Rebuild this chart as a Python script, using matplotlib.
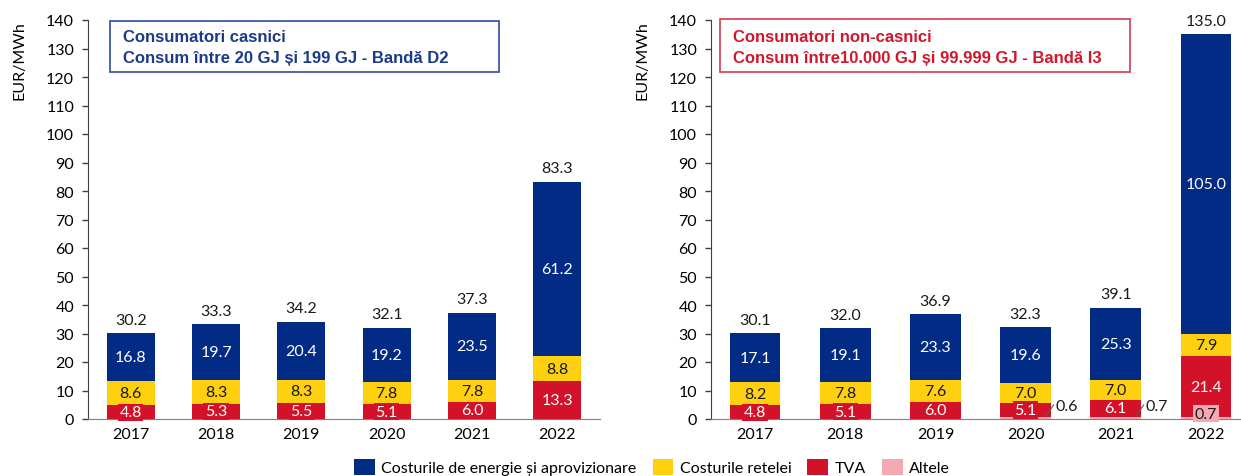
import matplotlib
matplotlib.use("Agg")
import matplotlib.pyplot as plt
from matplotlib.patches import Patch, Rectangle

plt.rcParams['font.family'] = ['Lato', 'DejaVu Sans']

years = ["2017", "2018", "2019", "2020", "2021", "2022"]

# Household consumers (band D2)
cas_tva = [4.8, 5.3, 5.5, 5.1, 6.0, 13.3]
cas_retea = [8.6, 8.3, 8.3, 7.8, 7.8, 8.8]
cas_energie = [16.8, 19.7, 20.4, 19.2, 23.5, 61.2]
cas_total = [30.2, 33.3, 34.2, 32.1, 37.3, 83.3]

# Non-household consumers (band I3)
nc_altele = [0.0, 0.0, 0.0, 0.6, 0.7, 0.7]
nc_tva = [4.8, 5.1, 6.0, 5.1, 6.1, 21.4]
nc_retea = [8.2, 7.8, 7.6, 7.0, 7.0, 7.9]
nc_energie = [17.1, 19.1, 23.3, 19.6, 25.3, 105.0]
nc_total = [30.1, 32.0, 36.9, 32.3, 39.1, 135.0]

legend_labels = ["Costurile de energie și aprovizionare", "Costurile retelei", "TVA", "Altele"]

C_ENERGIE = "#022B86"
C_RETEA = "#FFD00F"
C_TVA = "#D3122A"
C_ALTELE = "#F5A7B2"

W, H = 1241, 477
fig = plt.figure(figsize=(W / 100, H / 100), dpi=100)

y0_px, ytop_px = 420, 21
ax_h = (y0_px - ytop_px) / H
ax_b = (H - y0_px) / H

axL = fig.add_axes([88 / W, ax_b, (600 - 88) / W, ax_h])
axR = fig.add_axes([711 / W, ax_b, (1241 - 711) / W, ax_h])

FS = 11.5
BW = 0.56


def style_axis(ax, xmin, xmax):
    ax.set_ylim(0, 140)
    ax.set_xlim(xmin, xmax)
    ax.set_yticks(range(0, 141, 10))
    ax.tick_params(axis='y', direction='out', length=4, width=1, labelsize=FS, pad=6,
                   color="#404040")
    ax.tick_params(axis='x', length=0, labelsize=FS, pad=6)
    for s in ("top", "right"):
        ax.spines[s].set_visible(False)
    ax.spines["left"].set_color("#404040")
    ax.spines["bottom"].set_color("#808080")
    ax.set_ylabel("EUR/MWh", fontsize=FS, loc="top", labelpad=14)


def seg_label(ax, x, bottom, h, val, color, txtcolor):
    ax.text(x, bottom + h / 2, f"{val:.1f}", ha="center", va="center", fontsize=FS,
            color=txtcolor,
            bbox=dict(facecolor=color, edgecolor="none", pad=1.2))


def draw(ax, altele, tva, retea, energie, total):
    x = list(range(len(years)))
    bottoms = [0.0] * len(x)
    if altele is not None:
        ax.bar(x, altele, BW, bottom=bottoms, color=C_ALTELE, zorder=2)
        bottoms = [b + a for b, a in zip(bottoms, altele)]
    ax.bar(x, tva, BW, bottom=bottoms, color=C_TVA, zorder=2)
    b_tva = list(bottoms)
    bottoms = [b + t for b, t in zip(bottoms, tva)]
    ax.bar(x, retea, BW, bottom=bottoms, color=C_RETEA, zorder=2)
    b_ret = list(bottoms)
    bottoms = [b + r for b, r in zip(bottoms, retea)]
    ax.bar(x, energie, BW, bottom=bottoms, color=C_ENERGIE, zorder=2)
    b_en = list(bottoms)
    for i in x:
        seg_label(ax, i, b_tva[i], tva[i], tva[i], C_TVA, "white")
        seg_label(ax, i, b_ret[i], retea[i], retea[i], C_RETEA, "#1a1a1a")
        seg_label(ax, i, b_en[i], energie[i], energie[i], C_ENERGIE, "white")
        ax.text(i, total[i] + 2.2, f"{total[i]:.1f}", ha="center", va="bottom",
                fontsize=FS, color="#1a1a1a", clip_on=False)
    ax.set_xticks(x)
    ax.set_xticklabels(years)


style_axis(axL, -0.5, 5.5)
style_axis(axR, -0.49, 5.39)

draw(axL, None, cas_tva, cas_retea, cas_energie, cas_total)
draw(axR, nc_altele, nc_tva, nc_retea, nc_energie, nc_total)

# Small "Altele" values with leader lines
for i in (3, 4):
    axR.plot([i + 0.22, i + 0.31], [nc_altele[i] + 0.2, 4.9], color="#595959", lw=0.8,
             zorder=3, clip_on=False)
    axR.text(i + 0.33, 4.7, f"{nc_altele[i]:.1f}", ha="left", va="center", fontsize=FS,
             color="#1a1a1a")
axR.text(5, 1.8, f"{nc_altele[5]:.1f}", ha="center", va="center", fontsize=FS,
         color="#1a1a1a", bbox=dict(facecolor=C_ALTELE, edgecolor="none", pad=1.2),
         zorder=3)


def title_box(x0, y0, x1, y1, tx, lines, color, edge):
    fig.add_artist(Rectangle((x0 / W, 1 - y1 / H), (x1 - x0) / W, (y1 - y0) / H,
                             transform=fig.transFigure, facecolor="white",
                             edgecolor=edge, lw=1.3, zorder=5))
    for (ty, s) in lines:
        fig.text(tx / W, 1 - ty / H, s, ha="left", va="center", fontsize=12,
                 fontweight="bold", family=["Liberation Sans", "DejaVu Sans"],
                 color=color, zorder=6)


title_box(110, 22, 499, 73, 123,
          [(38, "Consumatori casnici"), (58, "Consum între 20 GJ și 199 GJ - Bandă D2")],
          "#1B3A8C", "#3F5AA6")
title_box(720, 20, 1130, 73, 733,
          [(37, "Consumatori non-casnici"),
           (58, "Consum între10.000 GJ și 99.999 GJ - Bandă I3")],
          "#D3172B", "#D84A5A")

handles = [Patch(facecolor=c, edgecolor="none") for c in (C_ENERGIE, C_RETEA, C_TVA, C_ALTELE)]
fig.legend(handles, legend_labels, loc="center", bbox_to_anchor=(652 / W, 1 - 468 / H),
           ncol=4, frameon=False, fontsize=FS, handlelength=1.3, handleheight=1.2,
           columnspacing=1.0, handletextpad=0.4)

fig.savefig("out.png", dpi=100)
